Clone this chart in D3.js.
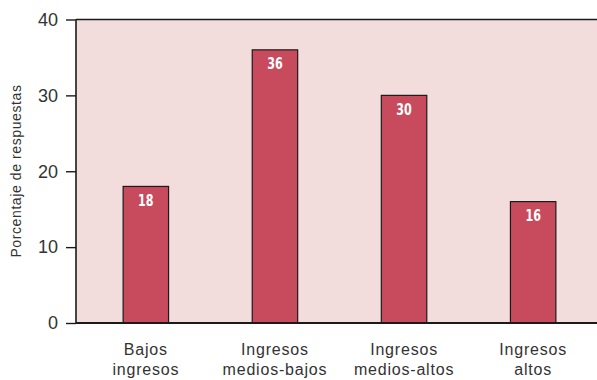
<!DOCTYPE html>
<html>
<head>
<meta charset="utf-8">
<script src="https://cdn.jsdelivr.net/npm/d3@7"></script>
<style>
  html, body { margin: 0; padding: 0; background: #ffffff; }
  svg { display: block; }
</style>
</head>
<body>
<svg id="chart" width="597" height="380"></svg>
<script>
// Distribution of answers by income level
const categories = ["Bajos ingresos", "Ingresos medios-bajos", "Ingresos medios-altos", "Ingresos altos"];
const categoryLines = [["Bajos", "ingresos"], ["Ingresos", "medios-bajos"], ["Ingresos", "medios-altos"], ["Ingresos", "altos"]];
const values = [18, 36, 30, 16];
const yTicks = [0, 10, 20, 30, 40];
const yTitle = "Porcentaje de respuestas";

const svg = d3.select("#chart");
const plot = { left: 76, right: 597, top: 19.5, bottom: 323 };

const x = d3.scaleBand()
  .domain(categories)
  .range([81.3, 597.7])
  .paddingInner(0.648)
  .paddingOuter(0.324);

const y = d3.scaleLinear()
  .domain([0, 40])
  .range([plot.bottom, plot.top]);

// plot background
svg.append("rect")
  .attr("x", plot.left)
  .attr("y", plot.top)
  .attr("width", plot.right - plot.left)
  .attr("height", plot.bottom - plot.top)
  .attr("fill", "#f3dcdc");

// top border
svg.append("line")
  .attr("x1", plot.left).attr("x2", plot.right)
  .attr("y1", plot.top).attr("y2", plot.top)
  .attr("stroke", "#1a1a1a").attr("stroke-width", 1.6);

// bars
svg.append("g").selectAll("rect")
  .data(values)
  .join("rect")
  .attr("x", (d, i) => x(categories[i]))
  .attr("y", d => y(d))
  .attr("width", x.bandwidth())
  .attr("height", d => plot.bottom - y(d))
  .attr("fill", "#c84b5d")
  .attr("stroke", "#1a1a1a")
  .attr("stroke-width", 1.2);

// value labels (condensed bold white digits)
svg.append("g").selectAll("text")
  .data(values)
  .join("text")
  .attr("transform", (d, i) => `translate(${x(categories[i]) + x.bandwidth() / 2},${y(d) + 19.5}) scale(0.72,1)`)
  .attr("text-anchor", "middle")
  .attr("fill", "#ffffff")
  .attr("font-family", "'DejaVu Sans', sans-serif")
  .attr("font-weight", "bold")
  .attr("font-size", 15.5)
  .text(d => d);

// y axis
const yAxis = d3.axisLeft(y)
  .tickValues(yTicks)
  .tickSize(10)
  .tickPadding(8)
  .tickFormat(d3.format("d"));

const gy = svg.append("g")
  .attr("transform", `translate(${plot.left},0)`)
  .call(yAxis);
gy.select(".domain").attr("stroke", "#1a1a1a").attr("stroke-width", 1.6)
  .attr("d", `M0,${plot.top}V${plot.bottom}`);
gy.selectAll(".tick line").attr("stroke", "#1a1a1a").attr("stroke-width", 1.4);
gy.selectAll(".tick text")
  .attr("fill", "#333333")
  .attr("font-family", "'Liberation Sans', Arial, sans-serif")
  .attr("font-size", 18);

// baseline
svg.append("line")
  .attr("x1", plot.left).attr("x2", plot.right)
  .attr("y1", plot.bottom).attr("y2", plot.bottom)
  .attr("stroke", "#1a1a1a").attr("stroke-width", 1.8);

// category labels
const cat = svg.append("g").selectAll("text")
  .data(categories)
  .join("text")
  .attr("text-anchor", "middle")
  .attr("fill", "#333333")
  .attr("font-family", "'Liberation Sans', Arial, sans-serif")
  .attr("font-size", 16)
  .attr("letter-spacing", 0.8)
  .attr("transform", d => `translate(${x(d) + x.bandwidth() / 2},355)`);
cat.selectAll("tspan")
  .data((d, i) => categoryLines[i])
  .join("tspan")
  .attr("x", 0)
  .attr("dy", (d, j) => j === 0 ? 0 : 19.5)
  .text(d => d);

// y axis title
svg.append("text")
  .attr("transform", "translate(21,171) rotate(-90)")
  .attr("text-anchor", "middle")
  .attr("fill", "#333333")
  .attr("font-family", "'Liberation Sans', Arial, sans-serif")
  .attr("font-size", 14)
  .attr("letter-spacing", 0.6)
  .text(yTitle);
</script>
</body>
</html>
